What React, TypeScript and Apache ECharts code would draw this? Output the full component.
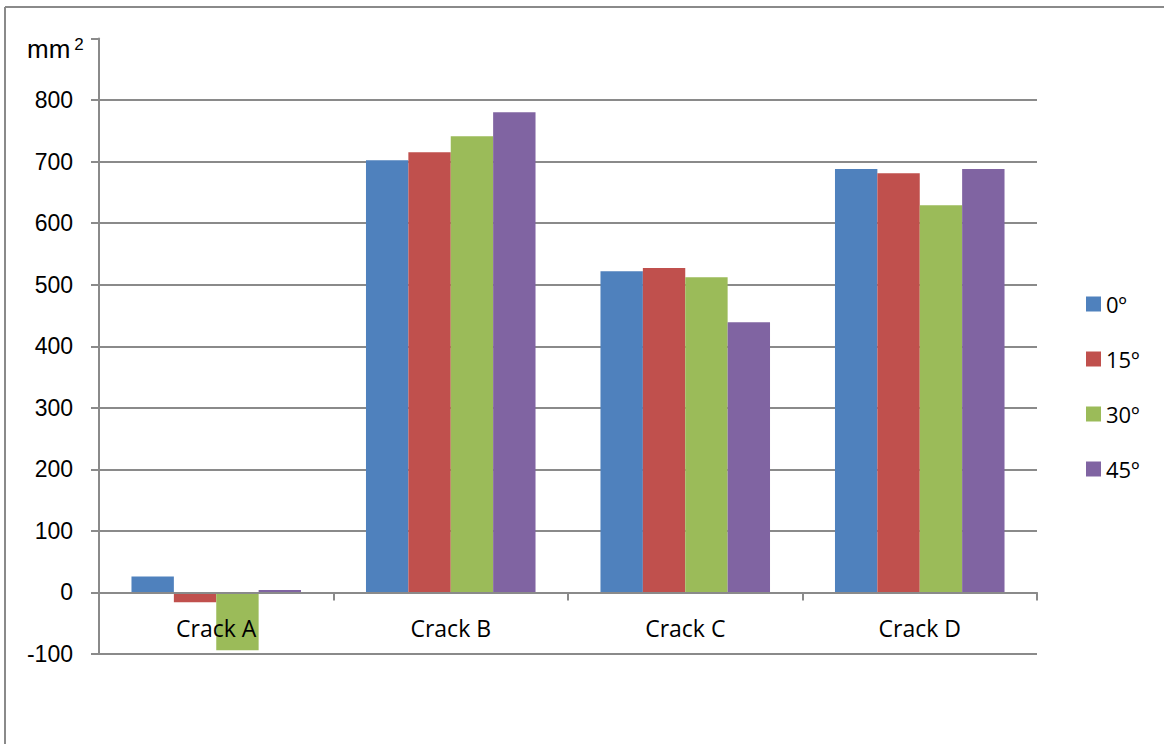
import React, { useEffect, useRef } from "react";
import * as echarts from "echarts";

const categories = ["Crack A", "Crack B", "Crack C", "Crack D"];
const seriesNames = ["0º", "15º", "30º", "45º"];
const values0 = [26, 702, 522, 688];
const values15 = [-16, 715, 527, 681];
const values30 = [-94, 741, 512, 629];
const values45 = [4, 780, 439, 688];
const colors = ["#4F81BD", "#C0504D", "#9BBB59", "#8064A2"];
const yTicks = [-100, 0, 100, 200, 300, 400, 500, 600, 700, 800, 900];

export default function App() {
  const ref = useRef<HTMLDivElement>(null);
  useEffect(() => {
    document.body.style.margin = "0";
    const chart = echarts.init(ref.current!, null, { renderer: "svg" });
    const all = [values0, values15, values30, values45];
    const gridColors = yTicks.map((t) => (t === 900 ? "rgba(0,0,0,0)" : "#8a8a8a"));
    chart.setOption({
      animation: false,
      backgroundColor: "#ffffff",
      grid: { left: 99, right: 127, top: 38.5, bottom: 90, containLabel: false },
      legend: {
        orient: "vertical",
        left: 1081,
        top: 288,
        itemWidth: 15,
        itemHeight: 15,
        itemGap: 33,
        icon: "rect",
        textStyle: { fontSize: 22, color: "#000", fontFamily: "Open Sans" },
        data: seriesNames,
      },
      xAxis: {
        type: "category",
        data: categories,
        axisLine: { onZero: true, lineStyle: { color: "#8a8a8a", width: 2 } },
        axisTick: { show: true, length: 8, alignWithLabel: false, lineStyle: { color: "#8a8a8a", width: 2 } },
        axisLabel: { fontSize: 23, color: "#000", fontFamily: "Open Sans", margin: -38 },
        z: 10,
      },
      yAxis: {
        type: "value",
        min: -100,
        max: 900,
        interval: 100,
        axisLine: { show: true, lineStyle: { color: "#8a8a8a", width: 2 } },
        axisTick: { show: true, length: 8, lineStyle: { color: "#8a8a8a", width: 2 } },
        axisLabel: {
          fontSize: 23,
          color: "#000",
          fontFamily: "Liberation Sans",
          margin: 26,
          formatter: (v: number) => (v === 900 ? "" : String(v)),
        },
        splitLine: { show: true, lineStyle: { color: gridColors, width: 2 } },
      },
      graphic: [
        { type: "line", shape: { x1: 5, y1: 7, x2: 5, y2: 744 }, style: { stroke: "#8a8a8a", lineWidth: 2 } },
        { type: "line", shape: { x1: 5, y1: 7, x2: 1164, y2: 7 }, style: { stroke: "#8a8a8a", lineWidth: 2 } },
        {
          type: "text",
          left: 27,
          top: 36,
          style: {
            text: "{a|mm}{b|2}",
            rich: {
              a: { fontSize: 26, fontFamily: "Liberation Sans", fill: "#000", verticalAlign: "bottom" },
              b: { fontSize: 17, fontFamily: "Liberation Sans", fill: "#000", verticalAlign: "top", padding: [0, 0, 0, 4] },
            },
          },
        },
      ],
      series: seriesNames.map((name, i) => ({
        name,
        type: "bar",
        data: all[i],
        barGap: "0%",
        barCategoryGap: "27.7%",
        itemStyle: { color: colors[i] },
        z: 2,
      })),
    });
    return () => chart.dispose();
  }, []);
  return <div ref={ref} style={{ width: 1164, height: 744 }} />;
}
